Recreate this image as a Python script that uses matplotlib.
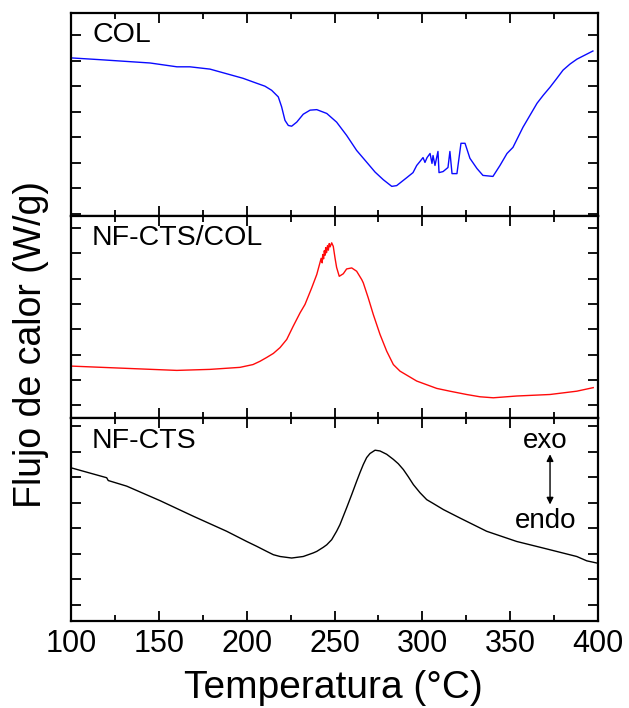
import matplotlib
matplotlib.use("Agg")
import matplotlib.pyplot as plt
from matplotlib.ticker import MultipleLocator, FixedLocator, NullFormatter

plt.rcParams['font.family'] = ['Liberation Sans', 'DejaVu Sans']

# Temperature (°C) and heat flow (arbitrary offset units, one unit per y tick)
col_T = [100, 116.5, 145.0, 160.3, 167.7, 179.1, 197.9, 204.7, 210.4, 214.2, 218.0,
         219.9, 221.8, 223.7, 225.6, 228.5, 232.2, 236.1, 239.9, 245.6, 251.2, 256.9,
         262.6, 268.3, 273.1, 277.8, 282.6, 285.4, 291.1, 294.7, 296.8, 298.7, 300.4,
         301.5, 302.7, 304.4, 305.5, 306.1, 307.2, 308.9, 309.5, 311.8, 314.6, 315.7,
         316.9, 319.7, 322.0, 324.3, 327.1, 331.1, 334.5, 340.2, 344.2, 348.2, 351.6,
         357.3, 365.3, 368.9, 372.7, 376.5, 380.1, 384.1, 388.0, 397.1]
col_Q = [6.11, 6.04, 5.91, 5.76, 5.76, 5.67, 5.31, 5.14, 5.00, 4.84, 4.58,
         4.19, 3.66, 3.46, 3.43, 3.59, 3.90, 4.06, 4.08, 3.93, 3.59, 3.07,
         2.48, 2.02, 1.63, 1.33, 1.07, 1.10, 1.41, 1.61, 1.89, 2.05, 2.20,
         2.01, 2.20, 2.36, 1.97, 2.28, 1.89, 2.44, 1.61, 1.65, 1.81, 2.44,
         1.57, 1.57, 2.76, 2.76, 2.17, 1.77, 1.50, 1.46, 1.89, 2.36, 2.60,
         3.39, 4.33, 4.65, 4.96, 5.30, 5.63, 5.87, 6.06, 6.38]

mix_T = [100, 131.7, 160.2, 179.1, 196.2, 203.6, 207.6, 211.4, 215.2, 219.0, 222.8,
         226.4, 230.4, 233.2, 237.0, 239.9, 241.7, 242.4, 243.0, 243.3, 243.8, 244.2,
         244.6, 245.0, 245.5, 246.0, 246.5, 247.0, 247.5, 248.4, 249.3, 250.3, 251.2,
         252.7, 255.0, 256.9, 259.8, 262.6, 265.5, 266.4, 269.2, 272.1, 275.9, 279.7,
         283.5, 287.3, 296.8, 308.2, 315.7, 325.2, 332.8, 340.4, 353.7, 372.7, 387.9, 397.3]
mix_Q = [1.55, 1.46, 1.38, 1.42, 1.50, 1.61, 1.74, 1.89, 2.05, 2.28, 2.60,
         3.11, 3.65, 3.98, 4.63, 5.16, 5.62, 5.80, 5.62, 5.95, 5.78, 6.10,
         5.92, 6.22, 6.02, 6.30, 6.12, 6.38, 6.25, 6.41, 6.27, 5.81, 5.44,
         5.09, 5.19, 5.38, 5.42, 5.29, 4.96, 4.83, 4.24, 3.58, 2.80, 2.14,
         1.61, 1.35, 0.96, 0.67, 0.56, 0.43, 0.34, 0.30, 0.37, 0.43, 0.56, 0.70]

cts_T = [100, 120.3, 121.2, 131.7, 150.7, 169.6, 188.6, 200.0, 205.7, 211.4, 215.2,
         219.0, 225.6, 232.2, 237.9, 239.9, 243.6, 245.6, 248.4, 251.2, 253.1, 255.0,
         256.9, 259.8, 262.6, 264.5, 266.4, 268.3, 270.2, 273.1, 275.9, 279.7, 283.5,
         286.3, 289.2, 292.0, 294.9, 298.7, 302.5, 306.2, 312.0, 321.4, 336.6, 353.7,
         368.9, 387.9, 393.6, 399.6]
cts_Q = [5.38, 4.99, 4.88, 4.66, 4.09, 3.48, 2.89, 2.49, 2.30, 2.10, 1.97,
         1.90, 1.84, 1.90, 2.04, 2.10, 2.26, 2.36, 2.56, 2.89, 3.15, 3.48,
         3.81, 4.33, 4.85, 5.19, 5.51, 5.78, 5.94, 6.07, 6.04, 5.91, 5.71,
         5.54, 5.31, 5.03, 4.72, 4.40, 4.13, 3.98, 3.74, 3.41, 2.89, 2.49,
         2.23, 1.90, 1.73, 1.64]

panels = [
    ("COL", col_T, col_Q, "#0a0aff", (-0.08, 7.87)),
    ("NF-CTS/COL", mix_T, mix_Q, "#ff0a0a", (-0.51, 7.48)),
    ("NF-CTS", cts_T, cts_Q, "#000000", (-0.63, 7.32)),
]
x_ticks = [100, 150, 200, 250, 300, 350, 400]

fig = plt.figure(figsize=(6.29, 7.08), dpi=100)
gs = fig.add_gridspec(3, 1, left=0.1129, right=0.9507, bottom=0.1229, top=0.9816, hspace=0)

axes = []
for i, (name, T, Q, color, ylim) in enumerate(panels):
    ax = fig.add_subplot(gs[i])
    ax.plot(T, Q, color=color, lw=1.0)
    ax.set_xlim(100, 400)
    ax.set_ylim(*ylim)
    ax.yaxis.set_major_locator(FixedLocator(range(8)))
    ax.yaxis.set_major_formatter(NullFormatter())
    ax.xaxis.set_major_locator(FixedLocator(x_ticks))
    ax.xaxis.set_minor_locator(MultipleLocator(25))
    ax.tick_params(which='both', direction='in', top=True, right=True, width=1.3)
    ax.tick_params(which='major', length=7)
    ax.tick_params(which='minor', length=4)
    for s in ax.spines.values():
        s.set_linewidth(1.6)
    ax.text(0.04, 0.855, name, transform=ax.transAxes, fontsize=20.5,
            va='baseline', ha='left')
    if i < 2:
        ax.xaxis.set_major_formatter(NullFormatter())
    else:
        ax.tick_params(axis='x', labelsize=22, pad=6)
    axes.append(ax)

# exo / endo indicator
ax = axes[2]
ax.text(370.2, 6.14, "exo", fontsize=20, ha='center', va='baseline')
ax.text(370.2, 3.03, "endo", fontsize=20, ha='center', va='baseline')
ax.annotate("", xy=(372.7, 5.91), xytext=(372.7, 3.94),
            arrowprops=dict(arrowstyle='<|-|>', color='black', lw=1.0,
                            mutation_scale=10, shrinkA=0, shrinkB=0))

fig.text(0.53, 0.014, "Temperatura (°C)", fontsize=28, ha='center', va='baseline')
fig.text(0.05, 0.514, "Flujo de calor (W/g)", fontsize=27, ha='center', va='center',
         rotation=90)

fig.savefig("out.png", dpi=100)
